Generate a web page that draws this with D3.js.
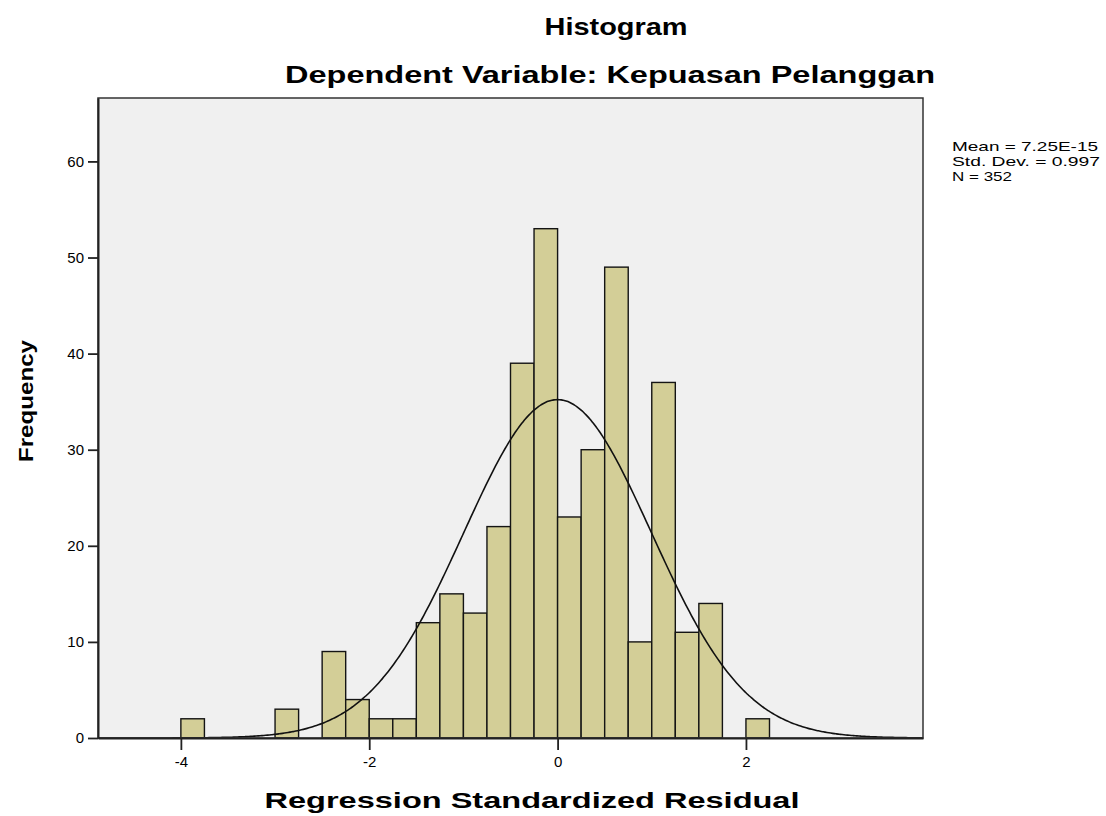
<!DOCTYPE html>
<html>
<head>
<meta charset="utf-8">
<script src="https://cdn.jsdelivr.net/npm/d3@7"></script>
<style>
  html, body { margin: 0; padding: 0; background: #ffffff; }
  svg { display: block; }
  text { font-family: Arial, "Liberation Sans", sans-serif; fill: #000; }
</style>
</head>
<body>
<svg id="chart" width="1106" height="816"></svg>
<script>
// ---- data ----
const binStarts = [-4.0, -3.0, -2.5, -2.25, -2.0, -1.75, -1.5, -1.25, -1.0, -0.75, -0.5, -0.25, 0.0, 0.25, 0.5, 0.75, 1.0, 1.25, 1.5, 2.0];
const counts    = [2, 3, 9, 4, 2, 2, 12, 15, 13, 22, 39, 53, 23, 30, 49, 10, 37, 11, 14, 2];
const binWidth = 0.25;
const xTicks = [-4, -2, 0, 2];
const yTicks = [0, 10, 20, 30, 40, 50, 60];
const statMean = 7.25e-15;
const statSd = 0.997;
const statN = 352;
const statLines = ["Mean = 7.25E-15", "Std. Dev. = 0.997", "N = 352"];
const statLengths = [146, 148, 60];
const titleText = "Histogram";
const subtitleText = "Dependent Variable: Kepuasan Pelanggan";
const xLabel = "Regression Standardized Residual";
const yLabel = "Frequency";

// ---- layout ----
const svg = d3.select("#chart");
const plot = { left: 98, right: 923, top: 98, bottom: 738 };
const x = d3.scaleLinear().domain([-4.88, 3.88]).range([plot.left, plot.right]);
const y = d3.scaleLinear().domain([0, 66.6]).range([plot.bottom, plot.top]);

// background
svg.append("rect")
  .attr("x", plot.left).attr("y", plot.top)
  .attr("width", plot.right - plot.left).attr("height", plot.bottom - plot.top)
  .attr("fill", "#f0f0f0");

// bars
const bars = binStarts.map((s, i) => ({ s, c: counts[i] }));
svg.append("g").selectAll("rect").data(bars).join("rect")
  .attr("x", d => x(d.s))
  .attr("y", d => y(d.c))
  .attr("width", d => x(d.s + binWidth) - x(d.s))
  .attr("height", d => y(0) - y(d.c))
  .attr("fill", "#d3ce97")
  .attr("stroke", "#141414")
  .attr("stroke-width", 1.4);

// normal curve from the reported statistics
const scaleFactor = statN * binWidth / (statSd * Math.sqrt(2 * Math.PI));
const curvePts = d3.range(x.domain()[0], x.domain()[1] + 0.001, 0.02).map(v => [v, scaleFactor * Math.exp(-0.5 * Math.pow((v - statMean) / statSd, 2))]);
svg.append("path")
  .datum(curvePts)
  .attr("d", d3.line().x(d => x(d[0])).y(d => y(d[1])).curve(d3.curveBasis))
  .attr("fill", "none")
  .attr("stroke", "#111")
  .attr("stroke-width", 1.6);

// frame
svg.append("rect")
  .attr("x", plot.left).attr("y", plot.top)
  .attr("width", plot.right - plot.left).attr("height", plot.bottom - plot.top)
  .attr("fill", "none").attr("stroke", "#333").attr("stroke-width", 1.5);

// axes
const xAxis = d3.axisBottom(x).tickValues(xTicks).tickSizeInner(12).tickSizeOuter(0).tickPadding(6).tickFormat(d3.format("d"));
const gx = svg.append("g").attr("transform", `translate(0,${plot.bottom})`).call(xAxis);
gx.select(".domain").attr("stroke", "#222").attr("stroke-width", 2);
gx.selectAll(".tick line").attr("stroke", "#222").attr("stroke-width", 1.8);
gx.selectAll(".tick text").attr("font-size", 15).attr("font-family", "Arial, 'Liberation Sans', sans-serif").attr("fill", "#000")
  .text(d => d < 0 ? "-" + Math.abs(d) : d);

const yAxis = d3.axisLeft(y).tickValues(yTicks).tickSizeInner(10).tickSizeOuter(0).tickPadding(4).tickFormat(d3.format("d"));
const gy = svg.append("g").attr("transform", `translate(${plot.left},0)`).call(yAxis);
gy.select(".domain").attr("stroke", "#222").attr("stroke-width", 2);
gy.selectAll(".tick line").attr("stroke", "#222").attr("stroke-width", 1.8);
gy.selectAll(".tick text").attr("font-size", 15).attr("font-family", "Arial, 'Liberation Sans', sans-serif").attr("fill", "#000");

// titles
svg.append("text").attr("x", 616).attr("y", 35).attr("text-anchor", "middle")
  .attr("font-size", 24).attr("font-weight", "bold")
  .attr("textLength", 143).attr("lengthAdjust", "spacingAndGlyphs").text(titleText);
svg.append("text").attr("x", 610).attr("y", 83).attr("text-anchor", "middle")
  .attr("font-size", 24).attr("font-weight", "bold")
  .attr("textLength", 650).attr("lengthAdjust", "spacingAndGlyphs").text(subtitleText);
svg.append("text").attr("x", 532).attr("y", 808).attr("text-anchor", "middle")
  .attr("font-size", 22).attr("font-weight", "bold")
  .attr("textLength", 535).attr("lengthAdjust", "spacingAndGlyphs").text(xLabel);
svg.append("text").attr("transform", "translate(33,401) rotate(-90)").attr("text-anchor", "middle")
  .attr("font-size", 21).attr("font-weight", "bold")
  .attr("textLength", 122).attr("lengthAdjust", "spacingAndGlyphs").text(yLabel);

// stats legend
svg.append("g").selectAll("text").data(statLines).join("text")
  .attr("x", 952).attr("y", (d, i) => 151 + i * 15)
  .attr("font-size", 13.5)
  .attr("textLength", (d, i) => statLengths[i]).attr("lengthAdjust", "spacingAndGlyphs")
  .text(d => d);
</script>
</body>
</html>
